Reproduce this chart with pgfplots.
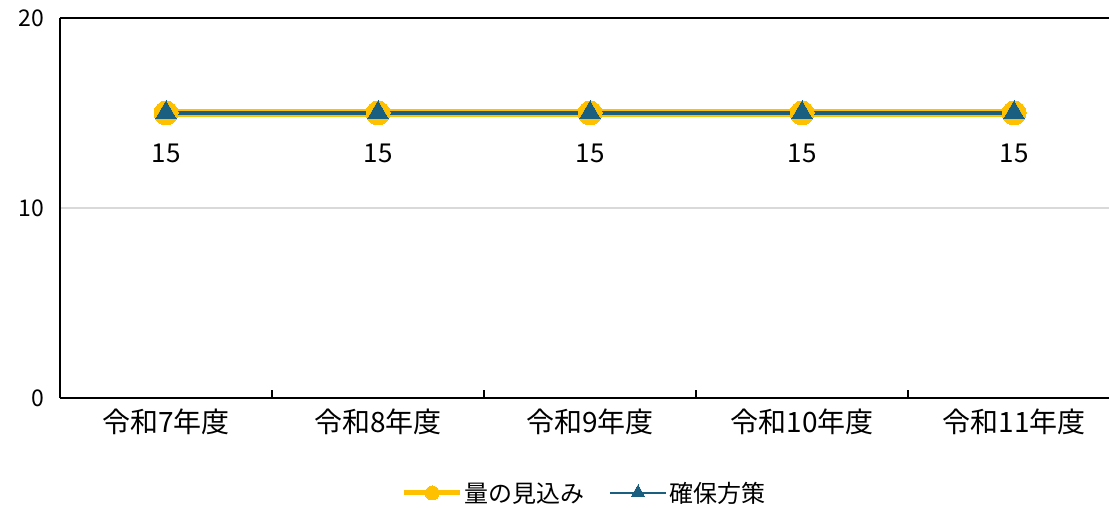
\documentclass[border=0pt]{standalone}
\usepackage{fontspec}
\setmainfont{Noto Sans CJK JP}
\usepackage{pgfplots}
\pgfplotsset{compat=1.18}

\definecolor{mikomi}{HTML}{FFC000}
\definecolor{kakuho}{HTML}{1A5F80}

\begin{document}
\begin{tikzpicture}
  \useasboundingbox (-60pt,-110pt) rectangle (1049pt,398pt);
  \begin{axis}[
    at={(0,0)}, anchor=south west,
    scale only axis, width=1049pt, height=380pt,
    xmin=-0.5, xmax=4.448, ymin=0, ymax=20,
    axis x line*=box, axis y line*=left,
    axis line style={black, line width=1.6pt},
    xtick={0,1,2,3,4},
    xticklabels={令和7年度,令和8年度,令和9年度,令和10年度,令和11年度},
    minor xtick={0.5,1.5,2.5,3.5},
    xtick pos=bottom, tick align=inside,
    major tick length=0pt, minor tick length=8pt,
    minor tick style={black, line width=1.2pt},
    ytick={0,10,20},
    ymajorgrids, grid style={gray!30, line width=1.5pt},
    tick label style={font=\fontsize{23}{25}\selectfont},
    xticklabel style={font=\fontsize{28}{30}\selectfont, yshift=-7pt},
    yticklabel style={xshift=-12pt},
    /pgf/number format/assume math mode=true,
    legend columns=2,
    legend style={at={(0.5,-0.25)}, anchor=center, draw=none,
      font=\fontsize{24}{26}\selectfont,
      /tikz/every even column/.append style={column sep=22pt}},
    legend image code/.code={
      \draw[#1] (0pt,0pt) -- (56pt,0pt);
      \draw[#1] plot coordinates {(28pt,0pt)};
    },
  ]
    \addplot[mikomi, line width=8pt, mark=*, mark size=12pt,
      mark options={solid, fill=mikomi, draw=mikomi, line width=0pt},
      forget plot]
      coordinates {(0,15) (1,15) (2,15) (3,15) (4,15)};
    \addplot[kakuho, line width=4pt, mark=triangle*, mark size=12pt,
      mark options={solid, fill=kakuho, draw=kakuho, line width=0pt},
      nodes near coords, forget plot,
      every node near coord/.append style={anchor=center, yshift=-40pt,
        text=black, font=\fontsize{26}{28}\selectfont}]
      coordinates {(0,15) (1,15) (2,15) (3,15) (4,15)};
    \addlegendimage{mikomi, line width=5pt, mark=*, mark size=7pt,
      mark options={solid, fill=mikomi, draw=mikomi, line width=0pt}}
    \addlegendentry{量の見込み}
    \addlegendimage{kakuho, line width=2.5pt, mark=triangle*, mark size=8pt,
      mark options={solid, fill=kakuho, draw=kakuho, line width=0pt}}
    \addlegendentry{確保方策}
  \end{axis}
\end{tikzpicture}
\end{document}
